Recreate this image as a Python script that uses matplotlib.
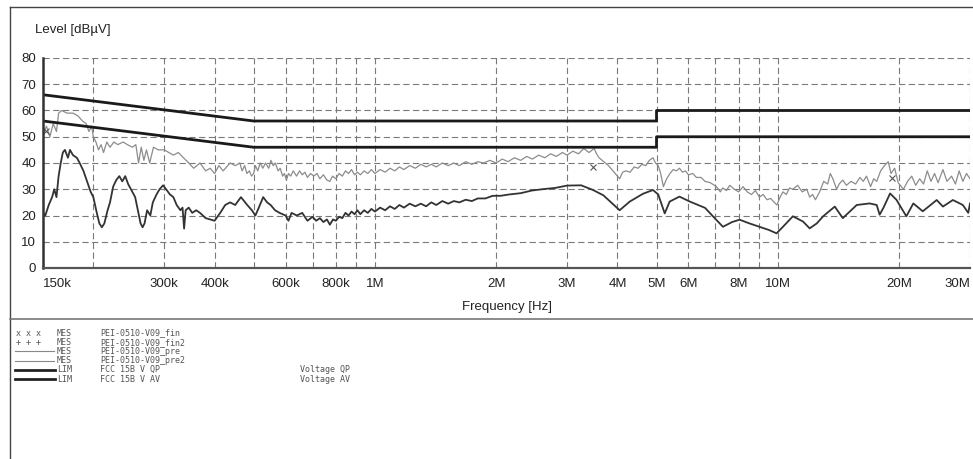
import matplotlib.pyplot as plt
from matplotlib.lines import Line2D

plt.rcParams['lines.scale_dashes'] = False
plt.rcParams['font.family'] = ['Liberation Sans', 'DejaVu Sans']

# frequencies in MHz, levels in dBuV
pre_f = [0.150, 0.153, 0.156, 0.159, 0.162, 0.164, 0.167, 0.172, 0.178, 0.183,
         0.188, 0.192, 0.195, 0.198, 0.200, 0.203, 0.206, 0.209, 0.212, 0.216,
         0.220, 0.225, 0.230, 0.237, 0.243, 0.250, 0.255, 0.259, 0.263, 0.267,
         0.271, 0.276, 0.282, 0.290, 0.300, 0.308, 0.316, 0.325, 0.335, 0.345,
         0.355, 0.368, 0.380, 0.390, 0.400, 0.410, 0.420, 0.437, 0.450, 0.462,
         0.468, 0.475, 0.481, 0.488, 0.494, 0.500, 0.505, 0.512, 0.519, 0.527,
         0.535, 0.545, 0.552, 0.559, 0.566, 0.575, 0.582, 0.590, 0.596, 0.603,
         0.610, 0.618, 0.627, 0.639, 0.650, 0.660, 0.670, 0.680, 0.692, 0.705,
         0.718, 0.730, 0.745, 0.760, 0.773, 0.785, 0.800, 0.815, 0.830, 0.845,
         0.860, 0.875, 0.890, 0.905, 0.920, 0.940, 0.960, 0.980, 1.00, 1.03,
         1.06, 1.09, 1.12, 1.15, 1.18, 1.22, 1.26, 1.30, 1.34, 1.38,
         1.42, 1.47, 1.52, 1.57, 1.62, 1.68, 1.74, 1.80, 1.86, 1.93,
         2.00, 2.07, 2.14, 2.22, 2.30, 2.38, 2.46, 2.55, 2.64, 2.73,
         2.82, 2.92, 3.00, 3.10, 3.20, 3.30, 3.40, 3.50, 3.55, 3.60,
         3.70, 3.80, 3.90, 4.00, 4.05, 4.12, 4.20, 4.30, 4.40, 4.50,
         4.60, 4.70, 4.80, 4.90, 4.97, 5.05, 5.12, 5.20, 5.30, 5.40,
         5.50, 5.60, 5.70, 5.80, 5.90, 6.00, 6.15, 6.28, 6.45, 6.60,
         6.80, 7.04, 7.20, 7.30, 7.45, 7.60, 7.80, 8.00, 8.20, 8.40,
         8.60, 8.80, 9.00, 9.20, 9.40, 9.60, 9.80, 9.95, 10.1, 10.3,
         10.5, 10.7, 10.9, 11.2, 11.5, 11.8, 12.0, 12.2, 12.4, 12.7,
         13.0, 13.3, 13.5, 13.7, 14.0, 14.2, 14.5, 14.8, 15.2, 15.6,
         16.0, 16.3, 16.6, 17.0, 17.3, 17.6, 18.0, 18.4, 18.8, 19.1,
         19.5, 19.9, 20.5, 21.0, 21.5, 22.0, 22.5, 23.0, 23.5, 24.0,
         24.5, 25.0, 25.7, 26.3, 27.0, 27.6, 28.2, 28.8, 29.4, 30.0]
pre_db = [51, 54, 50, 55, 52, 59, 60, 59, 59, 58,
          56, 55, 52, 54, 50, 48, 45, 47, 44, 48,
          46, 48, 47, 48, 47, 46, 47, 40, 46, 41,
          45, 40, 46, 45, 45, 44, 43, 44, 42, 40,
          38, 40, 37, 38, 36, 39, 37, 40, 39, 40,
          37, 39, 36, 37, 35, 36, 39, 37, 40, 38,
          40, 38, 41, 39, 40, 37, 38, 35, 36, 33.5,
          36, 35, 37, 35, 37, 35.5, 36.5, 34.5, 36, 35,
          36, 34, 35.5, 33.5, 33, 35, 34, 36, 35, 37,
          36, 37.5, 35.5, 36.5, 35.5, 37, 36, 37.5, 36, 37.5,
          36.5, 38, 37, 38.5, 37.5, 39, 38, 39.5, 38.5, 39.5,
          38.5, 40, 39, 40, 39, 40.5, 39.5, 40.5, 40, 41,
          40, 41.5, 40.5, 42, 41, 42.5, 41.5, 43, 42, 43.5,
          42.5, 44, 43, 44.5, 43.5, 45.5, 44, 45.5, 43.5, 42,
          40.5, 39, 37, 35, 34, 36.5, 37, 36.5, 38.5, 38,
          39.5, 39, 41, 42, 40, 39, 36, 31, 34, 36,
          37.5, 37, 38, 36.5, 37, 35.5, 36, 34.5, 34.5, 33,
          32.5, 31, 29, 30.5, 29.5, 31.5, 30, 29, 31, 29,
          28, 29.5, 27, 28, 26, 26.5, 25, 24, 26.5, 29,
          28, 30.5, 30, 31.5, 29, 30, 27, 28, 26, 29,
          33, 32, 36, 34, 30, 32, 33.5, 31.5, 33, 32,
          34.5, 33, 35, 31, 34, 33, 37, 39, 40.5, 36,
          38, 32.5, 30, 33, 35, 31.5, 34, 32, 37, 33,
          36, 32.5, 37.5, 33, 35, 32, 37, 33, 36, 34]

pre2_f = [0.150, 0.152, 0.155, 0.158, 0.160, 0.162, 0.164, 0.166, 0.168, 0.170,
          0.173, 0.175, 0.178, 0.182, 0.185, 0.189, 0.193, 0.197, 0.200, 0.204,
          0.207, 0.210, 0.213, 0.217, 0.220, 0.224, 0.228, 0.232, 0.236, 0.240,
          0.244, 0.250, 0.254, 0.258, 0.262, 0.265, 0.268, 0.272, 0.277, 0.281,
          0.287, 0.292, 0.298, 0.303, 0.310, 0.316, 0.322, 0.329, 0.333, 0.336,
          0.339, 0.345, 0.352, 0.360, 0.368, 0.380, 0.390, 0.400, 0.413, 0.425,
          0.437, 0.450, 0.465, 0.482, 0.495, 0.505, 0.515, 0.528, 0.540, 0.551,
          0.565, 0.580, 0.600, 0.610, 0.621, 0.640, 0.660, 0.680, 0.700, 0.715,
          0.730, 0.745, 0.760, 0.773, 0.787, 0.800, 0.815, 0.830, 0.845, 0.860,
          0.875, 0.890, 0.905, 0.920, 0.940, 0.960, 0.980, 1.00, 1.03, 1.06,
          1.09, 1.12, 1.15, 1.18, 1.22, 1.26, 1.30, 1.34, 1.38, 1.42,
          1.47, 1.52, 1.57, 1.62, 1.68, 1.74, 1.80, 1.88, 1.96, 2.05,
          2.15, 2.30, 2.45, 2.60, 2.80, 3.00, 3.25, 3.48, 3.69, 4.05,
          4.29, 4.63, 4.90, 5.05, 5.24, 5.39, 5.70, 6.05, 6.60, 7.04,
          7.31, 7.70, 8.04, 8.50, 9.00, 9.50, 9.93, 10.3, 10.9, 11.55,
          12.0, 12.5, 12.96, 13.85, 14.5, 15.7, 16.9, 17.6, 17.9, 18.3,
          19.0, 19.7, 20.5, 20.85, 21.7, 22.9, 24.8, 25.7, 27.2, 28.8,
          29.7, 30.0]
pre2_db = [21, 20, 24, 27, 30, 27, 35, 40, 44, 45,
           42, 45, 43, 42, 40, 37, 33, 29, 27, 21,
           17, 15.5, 17, 22, 25, 31, 33.5, 35, 33, 35,
           32, 29, 27, 22, 17, 15.5, 17, 22, 20, 25,
           28, 30, 31.5, 30, 28, 27, 24, 22, 23, 15,
           22, 23, 21, 22, 21, 19, 18.5, 18, 21, 24,
           25, 24, 27, 24, 22, 20, 23, 27, 25, 24,
           22, 21, 20, 18, 21, 20, 21, 18, 19.5, 18,
           19, 17.5, 18.5, 16.5, 18.5, 18, 19.5, 19, 21, 20,
           21.5, 20.5, 22, 20.5, 22, 21, 22.5, 21.5, 23, 22,
           23.5, 22.5, 24, 23, 24.5, 23.5, 24.5, 23.5, 25, 24,
           25.5, 24.5, 25.5, 25, 26, 25.5, 26.5, 26.5, 27.5, 27.5,
           28, 28.5, 29.5, 30, 30.5, 31.4, 31.5, 29.7, 27.7, 22,
           25.3, 28.3, 29.7, 28, 20.8, 25.3, 27.2, 25.3, 22.9, 18.3,
           15.7, 17.5, 18.4, 17, 15.7, 14.5, 13.2, 15.7, 19.7, 17.7,
           15.1, 17, 19.7, 23.4, 19, 24, 24.6, 24, 20.3, 23,
           28.4, 26, 21.6, 19.7, 24.6, 21.6, 25.9, 23.4, 25.9, 24,
           21, 24.6]

fin_f = [0.153, 3.48, 19.2]
fin_db = [52, 38.6, 34.2]

lim_f = [0.15, 0.5, 5, 5, 30]
lim_qp = [66, 56, 56, 60, 60]
lim_av = [56, 46, 46, 50, 50]

tick_f = [0.15, 0.3, 0.4, 0.6, 0.8, 1, 2, 3, 4, 5, 6, 8, 10, 20, 30]
tick_lab = ['150k', '300k', '400k', '600k', '800k', '1M', '2M', '3M', '4M',
            '5M', '6M', '8M', '10M', '20M', '30M']
grid_f = [0.2, 0.3, 0.4, 0.5, 0.6, 0.7, 0.8, 0.9, 1, 2, 3, 4, 5, 6, 7, 8, 9,
          10, 20, 30]

leg_sym = ['x x x', '+ + +', 'thin', 'thin', 'thick', 'thick']
leg_kind = ['MES', 'MES', 'MES', 'MES', 'LIM', 'LIM']
leg_name = ['PEI-0510-V09_fin', 'PEI-0510-V09_fin2', 'PEI-0510-V09_pre',
            'PEI-0510-V09_pre2', 'FCC 15B V QP', 'FCC 15B V AV']
leg_note = ['', '', '', '', 'Voltage QP', 'Voltage AV']

W, H = 973, 459
fig = plt.figure(figsize=(W / 100, H / 100), dpi=100)


def px(x, y):
    return x / W, 1 - y / H


ax = fig.add_axes([43 / W, 1 - 268 / H, 927 / W, 210 / H])
ax.set_xscale('log')
ax.set_xlim(0.15, 30)
ax.set_ylim(0, 80)

ax.plot(pre_f, pre_db, color='#8c8c8c', lw=0.9)
ax.plot(pre2_f, pre2_db, color='#333333', lw=1.3)
ax.plot(lim_f, lim_qp, color='#1a1a1a', lw=2.0)
ax.plot(lim_f, lim_av, color='#1a1a1a', lw=2.0)
ax.plot(fin_f, fin_db, ls='none', marker='x', ms=4, mew=0.8, color='#555555')

ax.set_yticks(range(0, 81, 10))
ax.set_xticks(tick_f, tick_lab)
ax.set_xticks(grid_f, minor=True)
ax.tick_params(which='both', length=0, labelsize=9.5, colors='#222222')
ax.tick_params(axis='x', pad=7)
ax.tick_params(axis='y', pad=5)
labs = ax.get_xticklabels()
labs[0].set_ha('left')
labs[-1].set_ha('right')
ax.grid(which='both', color='#7a7a7a', lw=0.8, dashes=(4.5, 2.5))
for s in ['top', 'right']:
    ax.spines[s].set_visible(False)
ax.spines['left'].set_linewidth(1.8)
ax.spines['bottom'].set_linewidth(1.6)
ax.spines['left'].set_color('#333333')
ax.spines['bottom'].set_color('#555555')
ax.set_xlabel('Frequency [Hz]', fontsize=9.5, labelpad=8, color='#222222')

fig.text(*px(35, 30), 'Level [dBµV]', fontsize=9.5, va='center', color='#222222')

# page frame and separator
frame = dict(color='#444444', lw=1.0)
fig.add_artist(Line2D([10 / W, 1], [1 - 7 / H] * 2, **frame))
fig.add_artist(Line2D([10 / W] * 2, [0, 1 - 7 / H], **frame))
fig.add_artist(Line2D([10 / W, 1], [1 - 319 / H] * 2, color='#777777', lw=1.2))

# legend block
mono = dict(family='DejaVu Sans Mono', fontsize=6, color='#555555', va='center')
for i in range(len(leg_name)):
    y = 333 + i * 9.2
    if leg_sym[i] == 'thin':
        fig.add_artist(Line2D([15 / W, 54 / W], [1 - y / H] * 2, color='#888888', lw=0.8))
    elif leg_sym[i] == 'thick':
        fig.add_artist(Line2D([15 / W, 55 / W], [1 - y / H] * 2, color='#222222', lw=2.0))
    else:
        fig.text(*px(16, y), leg_sym[i], **mono)
    fig.text(*px(57, y), leg_kind[i], **mono)
    fig.text(*px(100, y), leg_name[i], **mono)
    if leg_note[i]:
        fig.text(*px(300, y), leg_note[i], **mono)

fig.savefig('out.png', dpi=100)
